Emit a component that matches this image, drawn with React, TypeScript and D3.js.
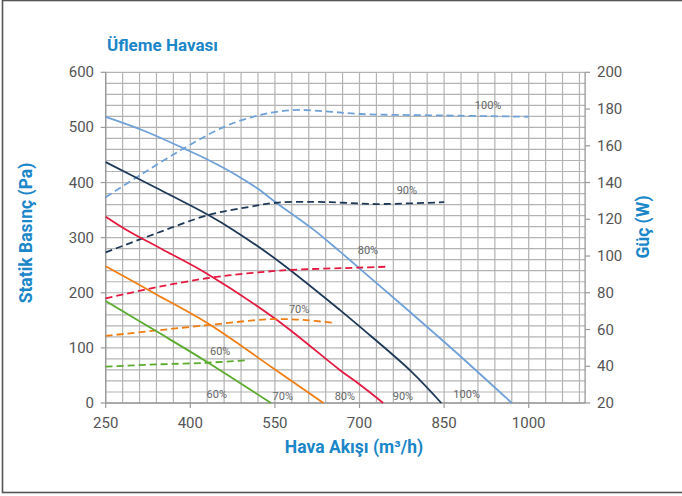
import React from "react";
import * as d3 from "d3";

const speeds = ["100%", "90%", "80%", "70%", "60%"];
const colors = ["#6fa1d9", "#1d3957", "#e5183f", "#f07e12", "#5aab2e"];

// Static pressure curves (Pa) vs air flow (m3/h)
const pressureFlow = [
  [250, 320, 388, 432, 476, 518, 553, 618, 665, 724, 784, 860, 970],
  [250, 340, 432, 476, 553, 665, 701, 792, 845],
  [250, 287, 350, 429, 553, 665, 701, 742],
  [250, 340, 435, 547, 636],
  [250, 340, 429, 543],
];
const pressureVals = [
  [519, 493, 462, 441, 417, 390, 363, 315, 275, 223, 170, 102, 0],
  [437, 390, 341, 314, 260, 169, 138, 57, 0],
  [338, 314, 279, 235, 151, 60, 33, 0],
  [248, 197, 142, 63, 0],
  [185, 130, 75, 0],
];

// Power curves (W) vs air flow
const powerFlow = [
  [250, 311, 388, 465, 520, 553, 594, 650, 701, 850, 1000],
  [250, 340, 432, 500, 553, 620, 671, 730, 850],
  [250, 340, 429, 500, 577, 701, 751],
  [250, 340, 435, 541, 600, 651],
  [250, 340, 429, 503],
];
const powerVals = [
  [132, 144, 158.5, 171, 176.5, 178.5, 179.5, 178.5, 177.3, 176.5, 175.8],
  [102, 112.4, 122.3, 126.5, 129, 129.5, 129, 128.3, 129.3],
  [77, 83, 87.9, 90.5, 92.4, 93.7, 94.2],
  [56.5, 59.5, 62.5, 65.6, 65.2, 63.7],
  [39.8, 41, 41.9, 43.4],
];

// label anchors
const powerLabelX = [928, 784, 715, 593, 453];
const powerLabelY = [182, 136, 103.3, 71.2, 48.3];
const pressureLabelX = [890, 777, 674, 564, 447];
const pressureLabelY = [16, 13, 13, 13, 16];

const xTicks = [250, 400, 550, 700, 850, 1000];
const yTicks = [0, 100, 200, 300, 400, 500, 600];
const y2Ticks = [20, 40, 60, 80, 100, 120, 140, 160, 180, 200];

const title = "Üfleme Havası";
const xTitle = "Hava Akışı (m³/h)";
const yTitle = "Statik Basınç (Pa)";
const y2Title = "Güç (W)";

export default function App() {
  const W = 682;
  const H = 496;
  const left = 105.7;
  const right = 585.1;
  const top = 72.3;
  const bottom = 403;
  const x = d3.scaleLinear().domain([250, 1100]).range([left, right]);
  const y = d3.scaleLinear().domain([0, 600]).range([bottom, top]);
  const y2 = d3.scaleLinear().domain([20, 200]).range([bottom, top]);

  const vGrid = d3.range(250, 1100, 30);
  const hGrid = d3.range(0, 601, 20);

  const line = (xs: number[], ys: number[], sy: d3.ScaleLinear<number, number>) =>
    d3
      .line<number>()
      .x((_, i) => x(xs[i]))
      .y((v) => sy(v))
      .curve(d3.curveCatmullRom.alpha(0.5))(ys) as string;

  const font = "Roboto, 'Noto Sans', sans-serif";
  const blue = "#1b86c8";
  const tickColor = "#555";
  const gridColor = "#b3b3b3";

  return (
    <svg width={W} height={H} style={{ position: "absolute", left: 0, top: 0 }}>
      <rect x={0} y={0} width={W} height={H} fill="#fff" />
      <rect x={2.5} y={0.5} width={W + 10} height={492} fill="none" stroke="#555" strokeWidth={1.6} />
      <text x={107} y={51} fontFamily={font} fontWeight={700} fontSize={17} fill={blue}>
        {title}
      </text>

      {/* grid */}
      {vGrid.map((v) => (
        <line key={"v" + v} x1={x(v)} x2={x(v)} y1={top} y2={bottom} stroke={gridColor} strokeWidth={1.2} />
      ))}
      {hGrid.map((v) => (
        <line key={"h" + v} x1={left} x2={right} y1={y(v)} y2={y(v)} stroke={gridColor} strokeWidth={1.2} />
      ))}
      <line x1={left} x2={left} y1={top} y2={bottom} stroke="#999" strokeWidth={1.3} />
      <line x1={right} x2={right} y1={top} y2={bottom} stroke="#999" strokeWidth={1.3} />
      <line x1={left} x2={right} y1={bottom} y2={bottom} stroke="#999" strokeWidth={1.3} />

      {/* left axis */}
      {yTicks.map((v) => (
        <g key={"yt" + v}>
          <line x1={left - 5} x2={left} y1={y(v)} y2={y(v)} stroke="#999" strokeWidth={1.2} />
          <text x={94} y={y(v) + 5} textAnchor="end" fontFamily={font} fontSize={15} fill={tickColor}>
            {v}
          </text>
        </g>
      ))}
      {/* right axis */}
      {y2Ticks.map((v) => (
        <g key={"y2t" + v}>
          <line x1={right} x2={right + 5} y1={y2(v)} y2={y2(v)} stroke="#999" strokeWidth={1.2} />
          <text x={597} y={y2(v) + 5} textAnchor="start" fontFamily={font} fontSize={15} fill={tickColor}>
            {v}
          </text>
        </g>
      ))}
      {/* bottom axis */}
      {xTicks.map((v) => (
        <g key={"xt" + v}>
          <line x1={x(v)} x2={x(v)} y1={bottom} y2={bottom + 5} stroke="#999" strokeWidth={1.2} />
          <text x={x(v)} y={428} textAnchor="middle" fontFamily={font} fontSize={15} fill={tickColor}>
            {v}
          </text>
        </g>
      ))}

      {/* curves */}
      {speeds.map((s, i) => (
        <g key={"c" + s}>
          <path d={line(powerFlow[i], powerVals[i], y2)} fill="none" stroke={colors[i]} strokeWidth={1.8} strokeDasharray="7,4" />
          <path d={line(pressureFlow[i], pressureVals[i], y)} fill="none" stroke={colors[i]} strokeWidth={1.8} />
          <text x={x(powerLabelX[i])} y={y2(powerLabelY[i]) + 4} textAnchor="middle" fontFamily={font} fontSize={11} fill="#666">
            {s}
          </text>
          <text x={x(pressureLabelX[i])} y={y(pressureLabelY[i]) + 4} textAnchor="middle" fontFamily={font} fontSize={11} fill="#666">
            {s}
          </text>
        </g>
      ))}

      {/* axis titles */}
      <text x={354} y={453} textAnchor="middle" fontFamily={font} fontWeight={700} fontSize={17.5} fill={blue}>
        {xTitle}
      </text>
      <text transform="translate(32,233) rotate(-90)" textAnchor="middle" fontFamily={font} fontWeight={700} fontSize={17.5} fill={blue}>
        {yTitle}
      </text>
      <text transform="translate(649,227) rotate(-90)" textAnchor="middle" fontFamily={font} fontWeight={700} fontSize={17.5} fill={blue}>
        {y2Title}
      </text>
    </svg>
  );
}
